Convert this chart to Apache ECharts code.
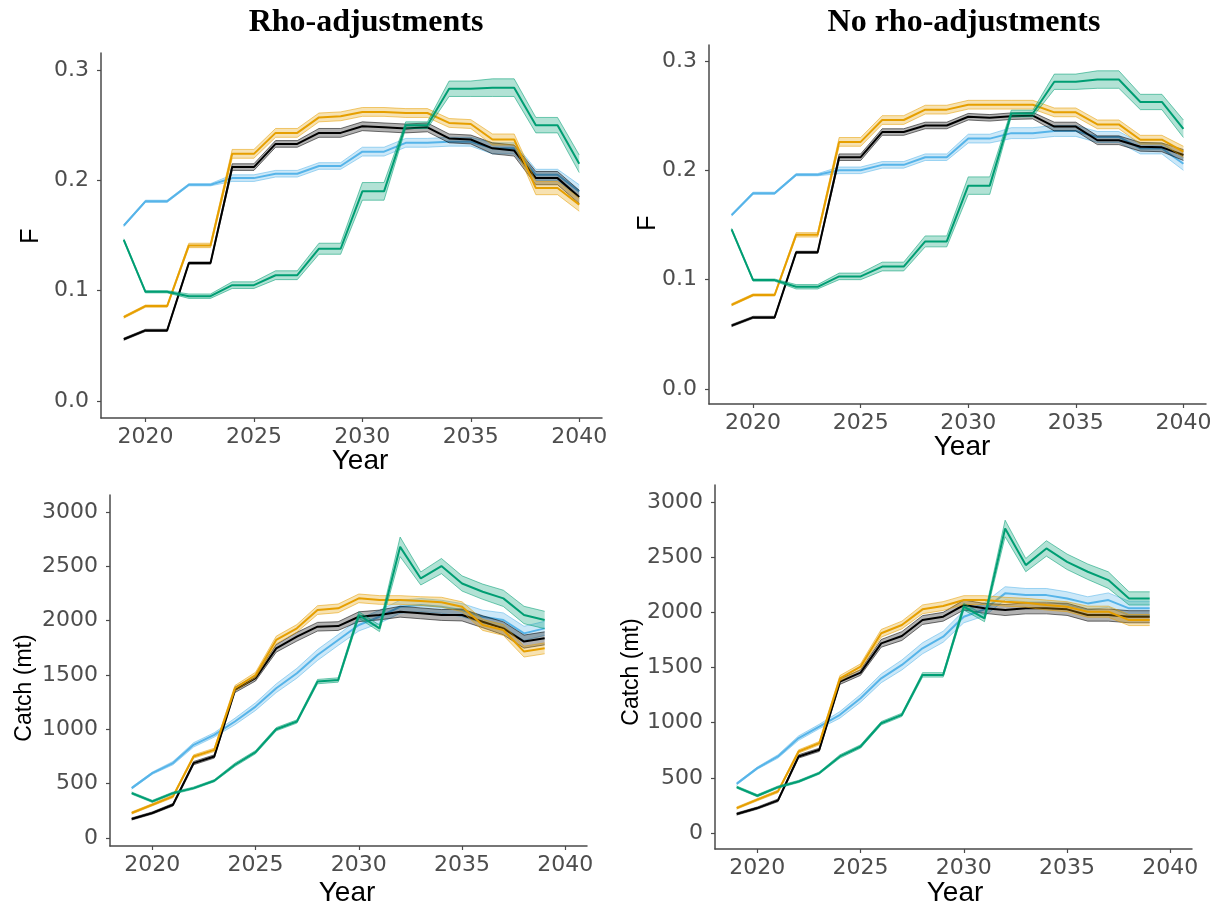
<!DOCTYPE html>
<html><head><meta charset="utf-8">
<script src="https://cdn.jsdelivr.net/npm/echarts@6/dist/echarts.min.js"></script>
<style>html,body{margin:0;padding:0;background:#fff}#c{width:1222px;height:909px}</style>
</head><body><div id="c"></div>
<script>
// ---------- categories / ticks ----------
const years = [2019,2020,2021,2022,2023,2024,2025,2026,2027,2028,2029,2030,2031,2032,2033,2034,2035,2036,2037,2038,2039,2040];
const catchYears = [2019,2020,2021,2022,2023,2024,2025,2026,2027,2028,2029,2030,2031,2032,2033,2034,2035,2036,2037,2038,2039];
const yearTicks = [2020,2025,2030,2035,2040];
const fTicks = [0,0.1,0.2,0.3];
const catchTicks = [0,500,1000,1500,2000,2500,3000];
const panelTitles = ['Rho-adjustments','No rho-adjustments'];

// ---------- F, rho-adjustments (median and half-width of band) ----------
const F_rho_black  = [0.056,0.064,0.064,0.125,0.125,0.212,0.212,0.233,0.233,0.243,0.243,0.249,0.248,0.247,0.248,0.238,0.237,0.229,0.227,0.202,0.202,0.185];
const F_rho_orange = [0.076,0.086,0.086,0.141,0.141,0.224,0.224,0.243,0.243,0.257,0.258,0.262,0.262,0.261,0.261,0.252,0.251,0.237,0.237,0.193,0.193,0.178];
const F_rho_blue   = [0.159,0.181,0.181,0.196,0.196,0.202,0.202,0.206,0.206,0.213,0.213,0.226,0.226,0.234,0.234,0.235,0.235,0.229,0.229,0.205,0.205,0.190];
const F_rho_green  = [0.146,0.099,0.099,0.095,0.095,0.105,0.105,0.114,0.114,0.138,0.138,0.190,0.190,0.250,0.250,0.283,0.283,0.284,0.284,0.250,0.250,0.215];
const F_rho_black_w  = [0.001,0.001,0.001,0.001,0.001,0.003,0.003,0.003,0.003,0.004,0.004,0.004,0.004,0.004,0.004,0.004,0.004,0.005,0.005,0.006,0.006,0.006];
const F_rho_orange_w = [0.001,0.001,0.001,0.002,0.002,0.004,0.004,0.004,0.004,0.004,0.004,0.004,0.004,0.004,0.004,0.004,0.004,0.005,0.005,0.006,0.006,0.006];
const F_rho_blue_w   = [0.001,0.001,0.001,0.001,0.001,0.003,0.003,0.003,0.003,0.003,0.003,0.004,0.004,0.004,0.004,0.004,0.004,0.005,0.005,0.005,0.005,0.006];
const F_rho_green_w  = [0.001,0.001,0.001,0.002,0.002,0.003,0.003,0.004,0.004,0.005,0.005,0.008,0.008,0.003,0.003,0.007,0.007,0.008,0.008,0.007,0.007,0.008];

// ---------- F, no rho-adjustments ----------
const F_norho_black  = [0.058,0.0655,0.0655,0.125,0.125,0.212,0.212,0.235,0.235,0.241,0.241,0.249,0.248,0.2495,0.250,0.240,0.240,0.2275,0.2275,0.2215,0.221,0.214];
const F_norho_orange = [0.077,0.086,0.086,0.141,0.141,0.226,0.226,0.246,0.246,0.2555,0.2555,0.260,0.260,0.260,0.260,0.253,0.253,0.242,0.242,0.228,0.228,0.217];
const F_norho_blue   = [0.159,0.179,0.179,0.196,0.196,0.200,0.200,0.205,0.205,0.212,0.212,0.229,0.229,0.234,0.234,0.236,0.236,0.2305,0.2305,0.220,0.220,0.206];
const F_norho_green  = [0.146,0.0996,0.0996,0.0935,0.0935,0.103,0.103,0.112,0.112,0.135,0.135,0.186,0.186,0.252,0.252,0.281,0.281,0.283,0.283,0.2625,0.2625,0.238];
const F_norho_black_w  = [0.001,0.001,0.001,0.001,0.001,0.003,0.003,0.003,0.003,0.003,0.003,0.003,0.003,0.003,0.003,0.004,0.004,0.004,0.004,0.004,0.004,0.005];
const F_norho_orange_w = [0.001,0.001,0.001,0.002,0.002,0.004,0.004,0.004,0.004,0.004,0.004,0.004,0.004,0.004,0.004,0.004,0.004,0.004,0.004,0.004,0.004,0.005];
const F_norho_blue_w   = [0.001,0.001,0.001,0.001,0.001,0.003,0.003,0.003,0.003,0.003,0.003,0.004,0.004,0.005,0.005,0.005,0.005,0.005,0.005,0.005,0.005,0.006];
const F_norho_green_w  = [0.001,0.001,0.001,0.002,0.002,0.003,0.003,0.004,0.004,0.005,0.005,0.008,0.008,0.003,0.003,0.007,0.007,0.008,0.008,0.007,0.007,0.008];

// ---------- Catch (mt), rho-adjustments ----------
const C_rho_black  = [175,230,306,689,750,1363,1470,1745,1852,1944,1950,2036,2052,2082,2067,2052,2052,1990,1929,1807,1837];
const C_rho_orange = [230,306,383,750,811,1378,1500,1822,1929,2097,2113,2205,2190,2190,2180,2170,2128,1960,1914,1715,1745];
const C_rho_blue   = [459,597,689,857,949,1072,1209,1378,1516,1684,1822,1960,2036,2128,2143,2128,2097,2036,2006,1883,1929];
const C_rho_green  = [413,337,413,459,527,674,790,1001,1072,1439,1454,2052,1929,2679,2388,2502,2342,2266,2205,2052,2006];
const C_rho_black_w  = [10,10,12,15,15,25,25,35,40,40,40,45,45,50,50,50,55,55,60,60,60];
const C_rho_orange_w = [10,10,12,15,15,25,25,35,35,40,40,40,40,40,40,45,45,50,50,50,50];
const C_rho_blue_w   = [10,10,15,20,20,30,35,40,45,50,50,55,60,60,60,60,60,60,65,65,65];
const C_rho_green_w  = [10,10,10,10,10,15,15,15,15,20,20,30,30,90,60,70,70,70,75,80,80];

// ---------- Catch (mt), no rho-adjustments ----------
const C_norho_black  = [172,226,296,694,754,1372,1454,1719,1785,1930,1960,2066,2036,2021,2036,2036,2027,1975,1975,1960,1960];
const C_norho_orange = [226,302,377,739,814,1402,1508,1810,1885,2027,2057,2111,2111,2096,2087,2066,2051,2006,2006,1930,1930];
const C_norho_blue   = [446,588,694,860,965,1071,1221,1402,1523,1674,1779,1960,2027,2172,2156,2156,2126,2081,2111,2036,2036];
const C_norho_green  = [416,338,416,467,543,694,784,995,1071,1433,1433,2051,1945,2760,2428,2579,2458,2368,2292,2126,2126];
const C_norho_black_w  = [10,10,12,15,15,25,25,35,40,40,40,45,45,50,50,50,55,55,55,55,55];
const C_norho_orange_w = [10,10,12,15,15,25,25,35,35,40,40,40,40,40,40,45,45,50,50,50,50];
const C_norho_blue_w   = [10,10,15,20,20,30,35,40,45,50,50,55,60,60,60,60,60,60,65,65,65];
const C_norho_green_w  = [10,10,10,10,10,15,15,15,15,20,20,30,30,75,60,70,70,70,75,60,60];

// ---------- styling ----------
const COLORS = {black:'#000000', orange:'#E69F00', blue:'#56B4E9', green:'#009E73'};
const AXIS_COL = '#4a4a4a';
const LABEL_COL = '#4d4d4d';
const TICK_FONT = 'DejaVu Sans';
const TITLE_FONT = 'Liberation Sans, Arial, sans-serif';

// grid boxes in pixels
const grids = [
  {left:101, top:53,  width:501, height:365},
  {left:709, top:45,  width:497, height:359},
  {left:110, top:495, width:477, height:351},
  {left:715, top:485, width:477, height:364}
];
const yRanges = [[-0.0154,0.3154],[-0.0137,0.3146],[-73.6,3156],[-145,3154]];

const panels = [
  {g:0, x:years, data:{black:F_rho_black, orange:F_rho_orange, blue:F_rho_blue, green:F_rho_green},
        w:{black:F_rho_black_w, orange:F_rho_orange_w, blue:F_rho_blue_w, green:F_rho_green_w}},
  {g:1, x:years, data:{black:F_norho_black, orange:F_norho_orange, blue:F_norho_blue, green:F_norho_green},
        w:{black:F_norho_black_w, orange:F_norho_orange_w, blue:F_norho_blue_w, green:F_norho_green_w}},
  {g:2, x:catchYears, data:{black:C_rho_black, orange:C_rho_orange, blue:C_rho_blue, green:C_rho_green},
        w:{black:C_rho_black_w, orange:C_rho_orange_w, blue:C_rho_blue_w, green:C_rho_green_w}},
  {g:3, x:catchYears, data:{black:C_norho_black, orange:C_norho_orange, blue:C_norho_blue, green:C_norho_green},
        w:{black:C_norho_black_w, orange:C_norho_orange_w, blue:C_norho_blue_w, green:C_norho_green_w}}
];

const xAxes = grids.map((g,i)=>({
  type:'value', gridIndex:i, min:2017.95, max:2041.05,
  axisLine:{show:true, onZero:false, lineStyle:{color:AXIS_COL, width:1.5}},
  axisTick:{show:true, customValues:yearTicks, length:4, lineStyle:{color:AXIS_COL, width:1.2}},
  axisLabel:{show:true, customValues:yearTicks, color:LABEL_COL, fontFamily:TICK_FONT, fontSize:22, margin:8,
    formatter: v => String(Math.round(v))},
  splitLine:{show:false}
}));
const yAxes = grids.map((g,i)=>{
  const isF = i < 2;
  const ticks = isF ? fTicks : catchTicks;
  return {
    type:'value', gridIndex:i, min:yRanges[i][0], max:yRanges[i][1],
    axisLine:{show:true, onZero:false, lineStyle:{color:AXIS_COL, width:1.5}},
    axisTick:{show:true, customValues:ticks, length:4, lineStyle:{color:AXIS_COL, width:1.2}},
    axisLabel:{show:true, customValues:ticks, color:LABEL_COL, fontFamily:TICK_FONT, fontSize:22, margin:12,
      formatter: v => isF ? Number(v).toFixed(1) : String(Math.round(v))},
    splitLine:{show:false}
  };
});

const series = [];
const drawOrder = ['blue','black','orange','green'];
panels.forEach(p=>{
  drawOrder.forEach((k,ki)=>{
    const mid = p.data[k], hw = p.w[k], xs = p.x, col = COLORS[k];
    const lo = mid.map((v,i)=>v-hw[i]);
    const hi = mid.map((v,i)=>v+hw[i]);
    const z = 2 + ki;
    // ribbon
    series.push({
      type:'custom', coordinateSystem:'cartesian2d', xAxisIndex:p.g, yAxisIndex:p.g, z:z, silent:true,
      data: xs.map((x,i)=>[x, lo[i], hi[i]]),
      encode:{x:0, y:[1,2]},
      renderItem:(params, api)=>{
        if (params.dataIndex !== 0) return null;
        const pts = [];
        for (let i=0;i<xs.length;i++) pts.push(api.coord([xs[i], lo[i]]));
        for (let i=xs.length-1;i>=0;i--) pts.push(api.coord([xs[i], hi[i]]));
        return {type:'polygon', shape:{points:pts}, style:{fill:col, opacity:0.3}};
      }
    });
    // ribbon edges
    [lo, hi].forEach(arr=>{
      series.push({
        type:'line', xAxisIndex:p.g, yAxisIndex:p.g, z:z, silent:true, symbol:'none',
        data: xs.map((x,i)=>[x, arr[i]]),
        lineStyle:{color:col, width:0.9, opacity:0.6}
      });
    });
    // median line
    series.push({
      type:'line', name:k, xAxisIndex:p.g, yAxisIndex:p.g, z:z, silent:true, symbol:'none',
      data: xs.map((x,i)=>[x, mid[i]]),
      lineStyle:{color:col, width:2}
    });
  });
});

const txt = (text, x, y, size, opts={}) => ({
  type:'text', x:x, y:y, rotation: opts.rot || 0, z:100,
  style:{text:text, x:0, y:0, fill: opts.fill || '#000', fontSize:size,
    fontFamily: opts.font || TITLE_FONT, fontWeight: opts.weight || 'normal',
    textAlign:'center', textVerticalAlign:'middle'}
});

const graphic = [
  txt(panelTitles[0], 366, 23, 32, {font:'Liberation Serif, Times New Roman, serif', weight:'bold'}),
  txt(panelTitles[1], 964, 23, 32, {font:'Liberation Serif, Times New Roman, serif', weight:'bold'}),
  txt('F', 31, 236, 25, {rot:Math.PI/2}),
  txt('F', 648, 223, 25, {rot:Math.PI/2}),
  txt('Year', 360, 461, 28),
  txt('Year', 962, 447, 28),
  txt('Catch (mt)', 25, 688, 23, {rot:Math.PI/2}),
  txt('Catch (mt)', 632, 672, 23, {rot:Math.PI/2}),
  txt('Year', 347, 893, 28),
  txt('Year', 955, 893, 28)
];

const chart = echarts.init(document.getElementById('c'), null, {renderer:'canvas'});
chart.setOption({
  animation:false,
  backgroundColor:'#ffffff',
  grid: grids.map(g=>Object.assign({containLabel:false}, g)),
  xAxis: xAxes,
  yAxis: yAxes,
  series: series,
  graphic: graphic
});
</script></body></html>
